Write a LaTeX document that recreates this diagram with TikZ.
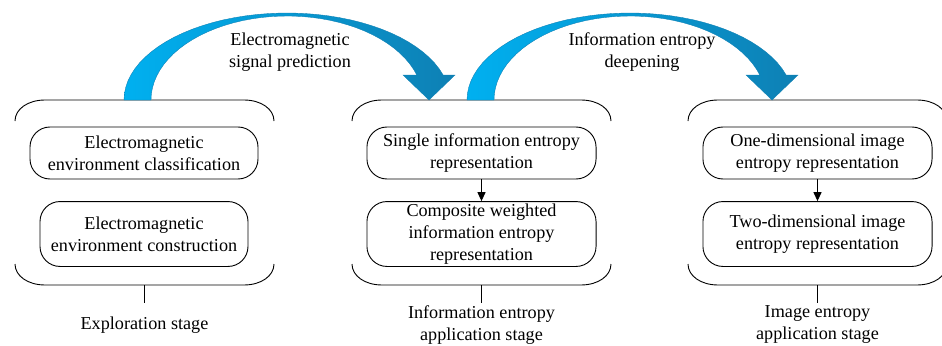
\documentclass[tikz,border=0pt]{standalone}
\usepackage{fontspec}
\setmainfont{Liberation Serif}
\usetikzlibrary{arrows.meta}
\definecolor{arrowlight}{RGB}{0,176,240}
\definecolor{arrowdark}{RGB}{14,128,180}
\tikzset{
  innerbox/.style={draw, rounded corners=11pt, align=center, inner xsep=2pt, inner ysep=1pt, line width=0.5pt},
  brk/.style={draw, line width=0.5pt},
  stagelabel/.style={align=center, minimum height=24pt, inner sep=0pt},
  bigarrow/.style={left color=arrowlight, right color=arrowdark, draw=arrowdark, line width=0.2pt}
}
\begin{document}
\begin{tikzpicture}[x=0.55pt, y=-0.55pt, font=\fontsize{10}{12.1}\selectfont]
		\useasboundingbox (0,0) rectangle (942,346);
		\clip (0,0) rectangle (942,346);
		% stage brackets
		\draw[brk] (15,121) .. controls (15,109) and (28,100) .. (45,100) -- (244,100) .. controls (261,100) and (274,109) .. (274,121);
		\draw[brk] (15,264) .. controls (15,276) and (28,285) .. (45,285) -- (244,285) .. controls (261,285) and (274,276) .. (274,264);
		\draw[brk] (352,121) .. controls (352,109) and (365,100) .. (382,100) -- (581,100) .. controls (598,100) and (611,109) .. (611,121);
		\draw[brk] (352,264) .. controls (352,276) and (365,285) .. (382,285) -- (581,285) .. controls (598,285) and (611,276) .. (611,264);
		\draw[brk] (688,121) .. controls (688,109) and (701,100) .. (718,100) -- (917,100) .. controls (934,100) and (947,109) .. (947,121);
		\draw[brk] (688,264) .. controls (688,276) and (701,285) .. (718,285) -- (917,285) .. controls (934,285) and (947,276) .. (947,264);
		% curved arrows
		\path[bigarrow] plot[domain=180:16.7, samples=40] ({287+163*cos(\x)}, {100-87*sin(\x)})
			-- (455,75) -- (429,100) -- (403,75)
			-- plot[domain=17.3:180, samples=40] ({287+136*cos(\x)}, {100-84*sin(\x)}) -- cycle;
		\path[bigarrow, shift={(343,0)}] plot[domain=180:16.7, samples=40] ({287+163*cos(\x)}, {100-87*sin(\x)})
			-- (455,75) -- (429,100) -- (403,75)
			-- plot[domain=17.3:180, samples=40] ({287+136*cos(\x)}, {100-84*sin(\x)}) -- cycle;
		\node[align=center] (predict) at (290,52) {Electromagnetic\\signal prediction};
		\node[align=center] (deepen) at (642,52) {Information entropy\\deepening};
		% boxes
		\node[innerbox, minimum width=125.4pt, minimum height=28.6pt] (emclass) at (144,153) {Electromagnetic\\environment classification};
		\node[innerbox, minimum width=114.4pt, minimum height=35.7pt] (emcons) at (144,234) {Electromagnetic\\environment construction};
		\node[innerbox, minimum width=126pt, minimum height=28.6pt] (single) at (481.5,153) {Single information entropy\\representation};
		\node[innerbox, minimum width=126pt, minimum height=35.7pt] (composite) at (481.5,234) {Composite weighted\\information entropy\\representation};
		\node[innerbox, minimum width=126pt, minimum height=28.6pt] (onedim) at (817.5,153) {One-dimensional image\\entropy representation};
		\node[innerbox, minimum width=126pt, minimum height=35.7pt] (twodim) at (817.5,234) {Two-dimensional image\\entropy representation};
		\draw[-{Triangle[length=5pt,width=4.5pt]}, line width=0.5pt] (single) -- (composite);
		\draw[-{Triangle[length=5pt,width=4.5pt]}, line width=0.5pt] (onedim) -- (twodim);
		% stage labels
		\coordinate (expbot) at (144.5,285);
		\coordinate (infbot) at (481.5,285);
		\coordinate (imgbot) at (817.5,285);
		\node[stagelabel] (explab) at (144.5,325) {Exploration stage};
		\node[stagelabel] (inflab) at (481.5,325) {Information entropy\\application stage};
		\node[stagelabel] (imglab) at (817.5,325) {Image entropy\\application stage};
		\draw[line width=0.5pt] (expbot) -- (explab);
		\draw[line width=0.5pt] (infbot) -- (inflab);
		\draw[line width=0.5pt] (imgbot) -- (imglab);
\end{tikzpicture}
\end{document}
